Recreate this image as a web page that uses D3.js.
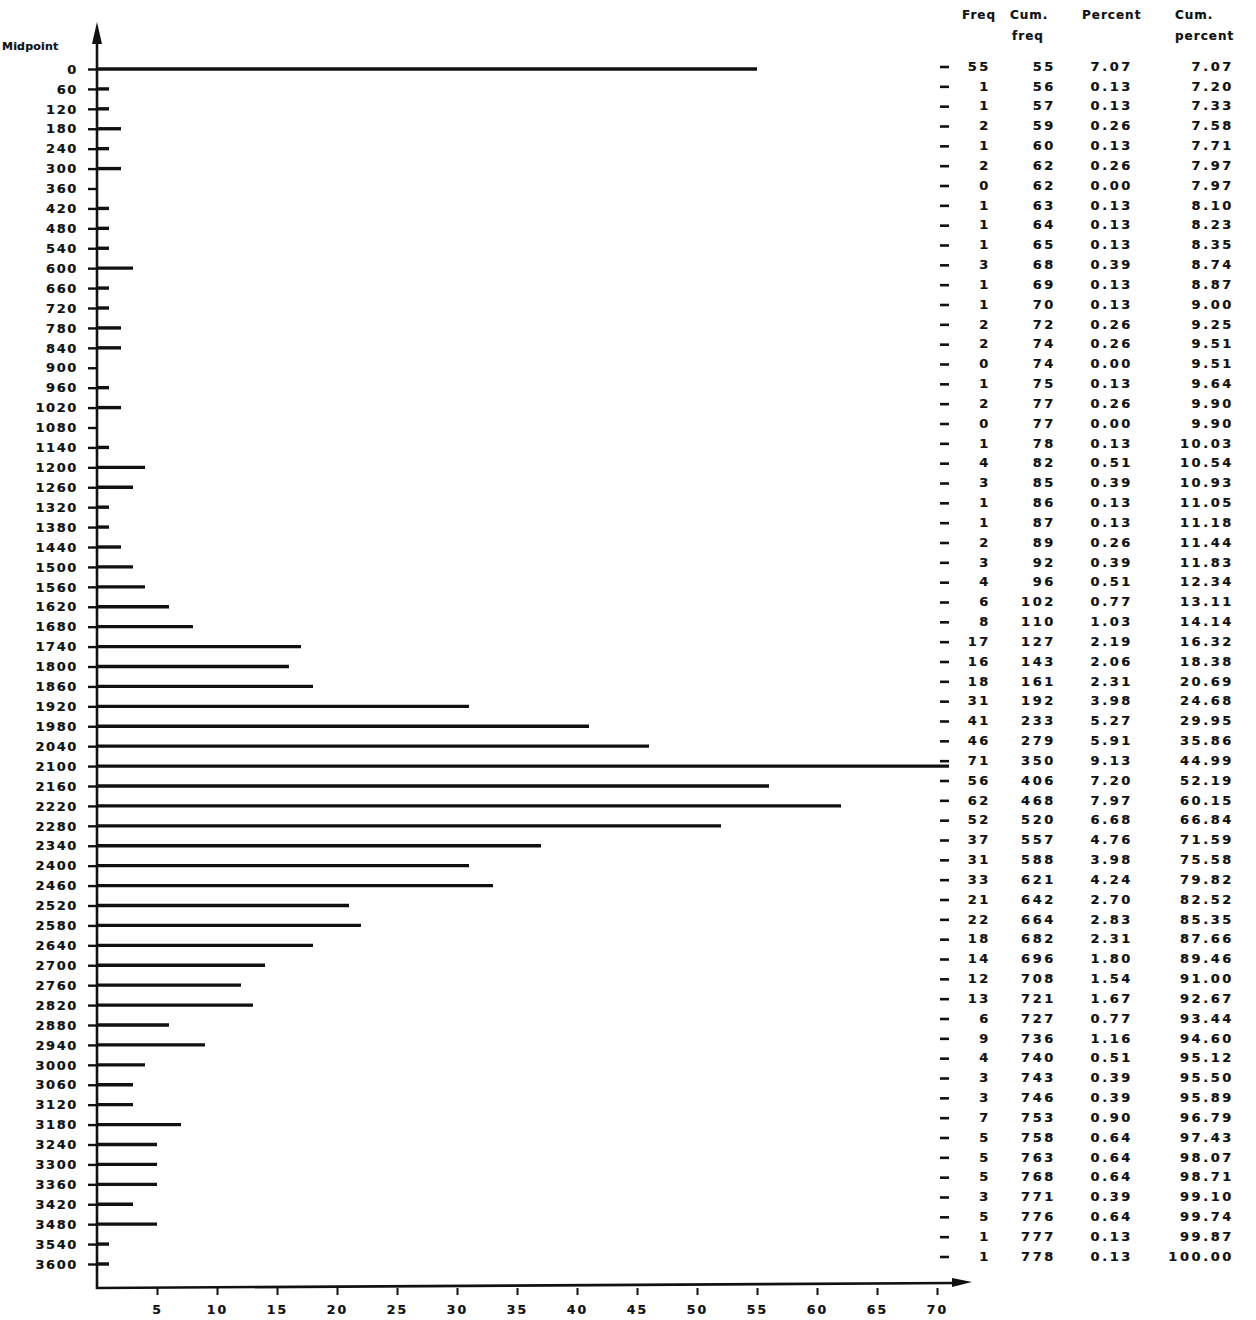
<!DOCTYPE html>
<html>
<head>
<meta charset="utf-8">
<script src="https://cdn.jsdelivr.net/npm/d3@7"></script>
<style>
  html, body { margin: 0; padding: 0; background: #fff; }
  svg { display: block; }
  text { font-family: "DejaVu Sans", "Liberation Sans", sans-serif; font-weight: bold; fill: #111; stroke: #111; stroke-width: 0.2px; }
</style>
</head>
<body>
<svg id="chart" width="1256" height="1320"></svg>
<script>
// Class midpoints (seconds) and the frequency table printed beside the histogram
const midpoints = [0,60,120,180,240,300,360,420,480,540,600,660,720,780,840,900,960,1020,1080,1140,
  1200,1260,1320,1380,1440,1500,1560,1620,1680,1740,1800,1860,1920,1980,2040,2100,2160,2220,2280,2340,
  2400,2460,2520,2580,2640,2700,2760,2820,2880,2940,3000,3060,3120,3180,3240,3300,3360,3420,3480,3540,3600];

const freq = [55,1,1,2,1,2,0,1,1,1,3,1,1,2,2,0,1,2,0,1,
  4,3,1,1,2,3,4,6,8,17,16,18,31,41,46,71,56,62,52,37,
  31,33,21,22,18,14,12,13,6,9,4,3,3,7,5,5,5,3,5,1,1];

const cumFreq = [55,56,57,59,60,62,62,63,64,65,68,69,70,72,74,74,75,77,77,78,
  82,85,86,87,89,92,96,102,110,127,143,161,192,233,279,350,406,468,520,557,
  588,621,642,664,682,696,708,721,727,736,740,743,746,753,758,763,768,771,776,777,778];

const percent = ["7.07","0.13","0.13","0.26","0.13","0.26","0.00","0.13","0.13","0.13",
  "0.39","0.13","0.13","0.26","0.26","0.00","0.13","0.26","0.00","0.13",
  "0.51","0.39","0.13","0.13","0.26","0.39","0.51","0.77","1.03","2.19",
  "2.06","2.31","3.98","5.27","5.91","9.13","7.20","7.97","6.68","4.76",
  "3.98","4.24","2.70","2.83","2.31","1.80","1.54","1.67","0.77","1.16",
  "0.51","0.39","0.39","0.90","0.64","0.64","0.64","0.39","0.64","0.13","0.13"];

const cumPercent = ["7.07","7.20","7.33","7.58","7.71","7.97","7.97","8.10","8.23","8.35",
  "8.74","8.87","9.00","9.25","9.51","9.51","9.64","9.90","9.90","10.03",
  "10.54","10.93","11.05","11.18","11.44","11.83","12.34","13.11","14.14","16.32",
  "18.38","20.69","24.68","29.95","35.86","44.99","52.19","60.15","66.84","71.59",
  "75.58","79.82","82.52","85.35","87.66","89.46","91.00","92.67","93.44","94.60",
  "95.12","95.50","95.89","96.79","97.43","98.07","98.71","99.10","99.74","99.87","100.00"];

const freqTicks = [5,10,15,20,25,30,35,40,45,50,55,60,65,70];

const svg = d3.select("#chart");
const ink = "#111";

const x = d3.scaleLinear().domain([0, 72]).range([97, 97 + 12 * 72]);
const y = d3.scalePoint().domain(midpoints).range([69, 1264]);
const yTable = d3.scalePoint().domain(midpoints).range([66, 1256]);
const axisY = 1288;

// Bars
svg.append("g").selectAll("line")
  .data(midpoints.map((m, i) => ({ m, v: freq[i] })))
  .join("line")
  .attr("x1", x(0))
  .attr("x2", d => x(d.v))
  .attr("y1", d => y(d.m))
  .attr("y2", d => y(d.m))
  .attr("stroke", ink)
  .attr("stroke-width", d => d.v > 0 ? 3.4 : 0);

// Vertical (midpoint) axis
const gy = svg.append("g")
  .attr("transform", `translate(${x(0)},0)`)
  .call(d3.axisLeft(y).tickSize(9).tickPadding(10));
gy.select(".domain").remove();
gy.selectAll(".tick line").attr("stroke", ink).attr("stroke-width", 2.4);
gy.selectAll(".tick text")
  .style("font-size", "13px")
  .style("letter-spacing", "1.6px")
  .attr("fill", ink);

svg.append("line")
  .attr("x1", x(0)).attr("x2", x(0))
  .attr("y1", 38).attr("y2", axisY + 1)
  .attr("stroke", ink).attr("stroke-width", 2.6);
svg.append("path")
  .attr("d", `M${x(0)},22 L${x(0) - 5},44 L${x(0) + 5},44 Z`)
  .attr("fill", ink);
svg.append("text")
  .attr("x", 2).attr("y", 50)
  .style("font-size", "11px")
  .style("letter-spacing", "0.2px")
  .text("Midpoint");

// Horizontal (frequency) axis
const gx = svg.append("g")
  .attr("transform", `translate(0,${axisY})`)
  .call(d3.axisBottom(x).tickValues(freqTicks).tickSize(7).tickPadding(10));
gx.select(".domain").remove();
gx.selectAll(".tick line").attr("stroke", ink).attr("stroke-width", 2);
gx.selectAll(".tick text")
  .style("font-size", "12.5px")
  .style("letter-spacing", "2px")
  .attr("fill", ink);

svg.append("line")
  .attr("x1", x(0) - 1).attr("x2", 956)
  .attr("y1", axisY).attr("y2", axisY - 5)
  .attr("stroke", ink).attr("stroke-width", 2.6);
svg.append("path")
  .attr("d", `M972,${axisY - 6} L952,${axisY - 10} L952,${axisY - 1} Z`)
  .attr("fill", ink);

// Frequency table
const header = svg.append("g").style("font-size", "12px").style("letter-spacing", "1px");
[["Freq", 962, 19], ["Cum.", 1010, 19], ["freq", 1012, 40],
 ["Percent", 1082, 19], ["Cum.", 1175, 19], ["percent", 1175, 40]]
  .forEach(([t, hx, hy]) => header.append("text").attr("x", hx).attr("y", hy).text(t));

const rows = svg.append("g").style("font-size", "13px").style("letter-spacing", "2.6px");
const rowData = midpoints.map((m, i) => ({ m, i }));

rows.selectAll("line.lead").data(rowData).join("line")
  .attr("class", "lead")
  .attr("x1", 940).attr("x2", 949)
  .attr("y1", d => yTable(d.m) + 1).attr("y2", d => yTable(d.m) + 1)
  .attr("stroke", ink).attr("stroke-width", 2.6);

const columns = [
  { values: freq, xr: 991 },
  { values: cumFreq, xr: 1056 },
  { values: percent, xr: 1133 },
  { values: cumPercent, xr: 1234 }
];
columns.forEach(col => {
  rows.append("g").selectAll("text").data(rowData).join("text")
    .attr("x", col.xr)
    .attr("y", d => yTable(d.m))
    .attr("dy", "0.36em")
    .attr("text-anchor", "end")
    .text(d => col.values[d.i]);
});
</script>
</body>
</html>
